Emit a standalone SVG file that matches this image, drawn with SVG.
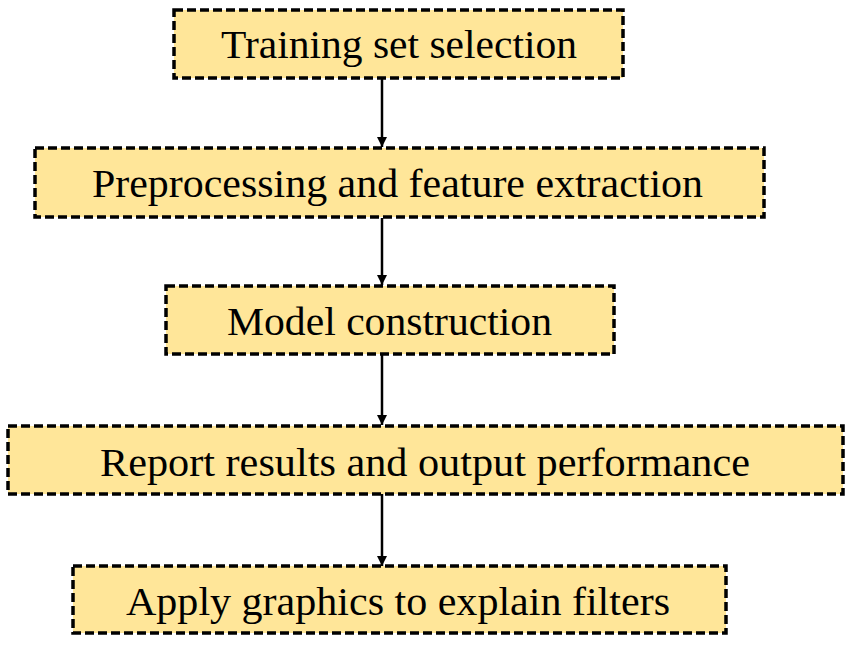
<svg xmlns="http://www.w3.org/2000/svg" width="851" height="645" viewBox="0 0 851 645">
<style>
.box{fill:#FFE699;stroke:#000;stroke-width:3.5;stroke-dasharray:9 4;}
.lbl{font-family:"Liberation Serif","Times New Roman",serif;font-size:41px;fill:#000;}
.conn{stroke:#000;stroke-width:2.5;fill:none;}
</style>
<defs>
<marker id="ah" markerWidth="10" markerHeight="10" refX="10" refY="5" orient="auto" markerUnits="userSpaceOnUse">
<path d="M0,0 L10,5 L0,10 Z" fill="#000"/>
</marker>
</defs>
<rect width="851" height="645" fill="#fff"/>
<g id="connectors">
<line class="conn" x1="382" y1="79" x2="382" y2="147" marker-end="url(#ah)"/>
<line class="conn" x1="382" y1="218" x2="382" y2="285" marker-end="url(#ah)"/>
<line class="conn" x1="382" y1="355" x2="382" y2="425" marker-end="url(#ah)"/>
<line class="conn" x1="382" y1="494" x2="382" y2="566" marker-end="url(#ah)"/>
</g>
<g id="n1">
<rect class="box" x="174" y="10" width="449" height="68"/>
<text class="lbl" x="221" y="58" textLength="356" lengthAdjust="spacingAndGlyphs">Training set selection</text>
</g>
<g id="n2">
<rect class="box" x="35" y="148" width="729" height="69"/>
<text class="lbl" x="92" y="197" textLength="611" lengthAdjust="spacingAndGlyphs">Preprocessing and feature extraction</text>
</g>
<g id="n3">
<rect class="box" x="166" y="286" width="448" height="68"/>
<text class="lbl" x="227" y="335" textLength="325" lengthAdjust="spacingAndGlyphs">Model construction</text>
</g>
<g id="n4">
<rect class="box" x="8" y="426" width="835" height="68"/>
<text class="lbl" x="100" y="476" textLength="650" lengthAdjust="spacingAndGlyphs">Report results and output performance</text>
</g>
<g id="n5">
<rect class="box" x="73" y="566" width="653" height="67"/>
<text class="lbl" x="126" y="615" textLength="544" lengthAdjust="spacingAndGlyphs">Apply graphics to explain filters</text>
</g>
</svg>
